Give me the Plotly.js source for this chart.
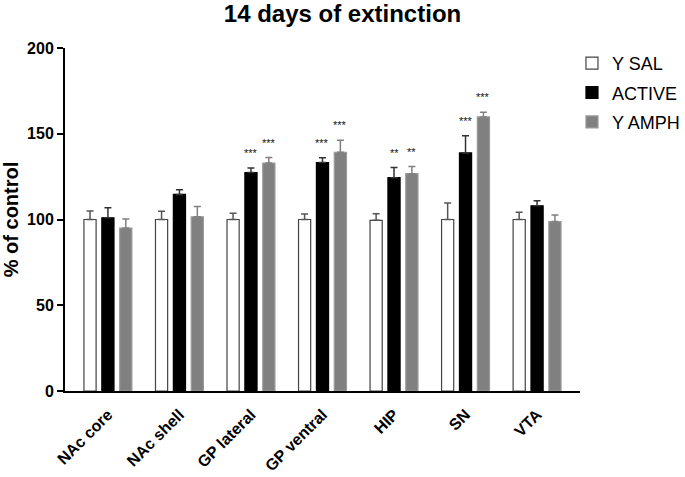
<!DOCTYPE html>
<html>
<head>
<meta charset="utf-8">
<script src="https://cdn.plot.ly/plotly-3.0.1.min.js"></script>
<style>html,body{margin:0;padding:0;background:#fff;}#chart{width:685px;height:477px;}</style>
</head>
<body>
<div id="chart"></div>
<script>
const categories = ["NAc core", "NAc shell", "GP lateral", "GP ventral", "HIP", "SN", "VTA"];
const salValues = [100, 100, 100, 100, 99.5, 100, 100];
const salErrors = [5, 4.8, 3.6, 3.2, 3.8, 9.6, 4.2];
const activeValues = [101, 114.6, 127.4, 133.2, 124.4, 138.8, 108];
const activeErrors = [5.8, 2.8, 2.6, 2.8, 5.9, 10, 3];
const amphValues = [95, 101.6, 132.9, 139.2, 126.7, 159.8, 98.8];
const amphErrors = [5.3, 6, 3.2, 7, 4.2, 2.8, 3.8];
const activeSig = ["", "", "***", "***", "**", "***", ""];
const amphSig = ["", "", "***", "***", "**", "***", ""];
const yTicks = [0, 50, 100, 150, 200];

const FONT = "Arial, 'Liberation Sans', sans-serif";

function barTrace(name, values, errors, fill, line, errColor, group) {
  return {
    type: "bar", name: name, x: categories, y: values,
    legendgroup: group,
    marker: {color: fill, line: {color: line, width: 1.2}},
    error_y: {type: "data", array: errors, arrayminus: errors.map(() => 0), symmetric: false,
              color: errColor, thickness: 1.5, width: 3.5},
    hoverinfo: "none"
  };
}

const traces = [
  barTrace("Y SAL", salValues, salErrors, "#ffffff", "#444444", "#555555", "g1"),
  barTrace("ACTIVE", activeValues, activeErrors, "#000000", "#000000", "#333333", "g2"),
  barTrace("Y AMPH", amphValues, amphErrors, "#808080", "#999999", "#808080", "g3")
];

const annotations = [];
[[activeSig, activeValues, activeErrors, 0], [amphSig, amphValues, amphErrors, 0.25]].forEach(([sig, vals, errs, off]) => {
  sig.forEach((s, i) => {
    if (!s) return;
    annotations.push({
      x: i + off, y: vals[i] + errs[i], xref: "x", yref: "y",
      text: s, showarrow: false, yshift: 15,
      font: {family: FONT, size: 11, color: "#111"}
    });
  });
});

const layout = {
  width: 685, height: 477,
  margin: {l: 65, r: 0, t: 48, b: 86},
  paper_bgcolor: "#fff", plot_bgcolor: "#fff",
  font: {family: FONT, color: "#000"},
  title: {text: "<b>14 days of extinction</b>", font: {family: FONT, size: 24, color: "#000"},
          x: 0.5, xref: "container", y: 0.972, yref: "container", yanchor: "middle"},
  barmode: "group", bargap: 0.25, bargroupgap: 0.32,
  xaxis: {
    type: "category", range: [-0.6, 6.6], domain: [0, 0.8306],
    showline: true, linecolor: "#000", linewidth: 2,
    ticks: "outside", ticklen: 6, tickcolor: "rgba(0,0,0,0)", tickangle: -45,
    tickfont: {family: FONT, size: 16, color: "#000"},
    showgrid: false, zeroline: false, fixedrange: true, automargin: false,
    tickprefix: "<b>", ticksuffix: "</b>"
  },
  yaxis: {
    range: [0, 200], tickvals: yTicks, ticktext: yTicks.map(v => "<b>" + v + "</b>"),
    showline: true, linecolor: "#000", linewidth: 2,
    ticks: "outside", ticklen: 6, tickwidth: 2, tickcolor: "#000",
    tickfont: {family: FONT, size: 16, color: "#000"},
    showgrid: false, zeroline: false, automargin: false,
    title: {text: "<b>% of control</b>", font: {family: FONT, size: 20, color: "#000"}, standoff: 4}
  },
  legend: {
    x: 0.8177, xanchor: "left", y: 1.009, yanchor: "top",
    font: {family: FONT, size: 18, color: "#000"},
    traceorder: "grouped", tracegroupgap: 3, bgcolor: "rgba(0,0,0,0)"
  },
  annotations: annotations,
  showlegend: true
};

Plotly.newPlot("chart", traces, layout, {displayModeBar: false, staticPlot: true});
</script>
</body>
</html>
